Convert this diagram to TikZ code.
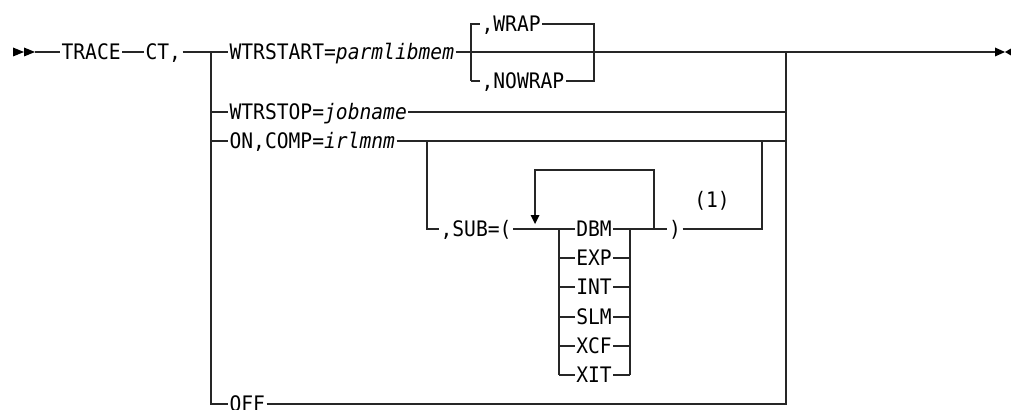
\documentclass[tikz,border=0pt]{standalone}
\usepackage{fontspec}
\setmonofont[FakeStretch=0.92]{DejaVu Sans Mono}
\begin{document}
\begin{tikzpicture}[x=0.75pt,y=-0.75pt,
  ln/.style={line width=0.9pt, draw=black!85},
  lbl/.style={inner xsep=1pt, inner ysep=0pt, text height=11.6pt, text depth=0pt,
    font=\ttfamily\fontsize{16}{18}\selectfont},
  tip/.style={fill=black, draw=none}]
\useasboundingbox (0,0) rectangle (1011,410);

% start marker
\fill[tip] (13,47.5) -- (24,52) -- (13,56.5) -- cycle;
\fill[tip] (24,47.5) -- (35,52) -- (24,56.5) -- cycle;
\coordinate (start) at (35,52);

\node[lbl, anchor=west] (trace) at (60,52) {TRACE};
\node[lbl, anchor=west] (ct) at (144,52) {CT,};

% main branch junctions
\coordinate (jL1) at (211,52);
\coordinate (jL4) at (211,404);
\coordinate (jL2) at (211,112);
\coordinate (jL3) at (211,141);
\coordinate (jR1) at (786,52);
\coordinate (jR2) at (786,112);
\coordinate (jR3) at (786,141);
\coordinate (jR4) at (786,404);
\coordinate (endl) at (995,52);

\node[lbl, anchor=west] (wstart) at (228,52) {WTRSTART=\textit{parmlibmem}};
\node[lbl, anchor=west] (wstop) at (228,112) {WTRSTOP=\textit{jobname}};
\node[lbl, anchor=west] (on) at (228,141) {ON,COMP=\textit{irlmnm}};
\node[lbl, anchor=west] (off) at (228,404) {OFF};

\draw[ln] (start) -- (trace.west);
\draw[ln] (trace.east) -- (ct.west);
\draw[ln] (ct.east) -- (wstart.west);
\draw[ln] (wstart.east) -- (jR1) -- (endl);
\draw[ln] (jL1) -- (jL4) -- (off.west);
\draw[ln] (jL2) -- (wstop.west);
\draw[ln] (jL3) -- (on.west);
\draw[ln] (wstop.east) -- (jR2);
\draw[ln] (on.east) -- (jR3);
\draw[ln] (off.east) -- (jR4) -- (jR1);

% end marker
\fill[tip] (995,47.5) -- (1005,52) -- (995,56.5) -- cycle;
\fill[tip] (1011,48.5) -- (1005,52) -- (1011,55.5) -- cycle;

% WRAP / NOWRAP
\coordinate (bL) at (471,52);
\coordinate (bLt) at (471,24);
\coordinate (bLb) at (471,81);
\coordinate (bRt) at (594,24);
\coordinate (bRb) at (594,81);
\node[lbl, anchor=west] (wrap) at (480,24) {,WRAP};
\node[lbl, anchor=west] (nowrap) at (480,81) {,NOWRAP};
\draw[ln] (bLb) -- (bLt) -- (wrap.west);
\draw[ln] (wrap.east) -- (bRt) -- (bRb) -- (nowrap.east);
\draw[ln] (nowrap.west) -- (bLb);

% SUB branch
\coordinate (s1) at (427,141);
\coordinate (s2) at (427,229);
\coordinate (s3) at (762,229);
\coordinate (s4) at (762,141);
\node[lbl, anchor=west] (sub) at (439,229) {,SUB=(};
\draw[ln] (s1) -- (s2) -- (sub.west);

% choice box
\coordinate (cLt) at (559,229);
\coordinate (cLb) at (559,375);
\coordinate (cRt) at (630,229);
\coordinate (cRb) at (630,375);
\draw[ln] (sub.east) -- (cLt);
\draw[ln] (cLt) -- (cLb);
\draw[ln] (cRt) -- (cRb);
\foreach \nm/\yy in {DBM/229, EXP/258, INT/287, SLM/317, XCF/346, XIT/375}{
  \coordinate (cl\nm) at (559,\yy);
  \coordinate (cr\nm) at (630,\yy);
  \node[lbl] (i\nm) at (594,\yy) {\nm};
  \draw[ln] (cl\nm) -- (i\nm.west);
  \draw[ln] (i\nm.east) -- (cr\nm);
}

% repeat loop
\coordinate (r1) at (654,229);
\coordinate (r2) at (654,170);
\coordinate (r3) at (535,170);
\coordinate (r4) at (535,216);
\draw[ln] (r1) -- (r2) -- (r3) -- (r4);
\fill[tip] (530.5,215) -- (539.5,215) -- (535,224) -- cycle;

\node[lbl] (paren) at (675,229) {)};
\draw[ln] (cRt) -- (paren.west);
\draw[ln] (paren.east) -- (s3) -- (s4);
\node[lbl] (note) at (712,200) {(1)};
\end{tikzpicture}
\end{document}
